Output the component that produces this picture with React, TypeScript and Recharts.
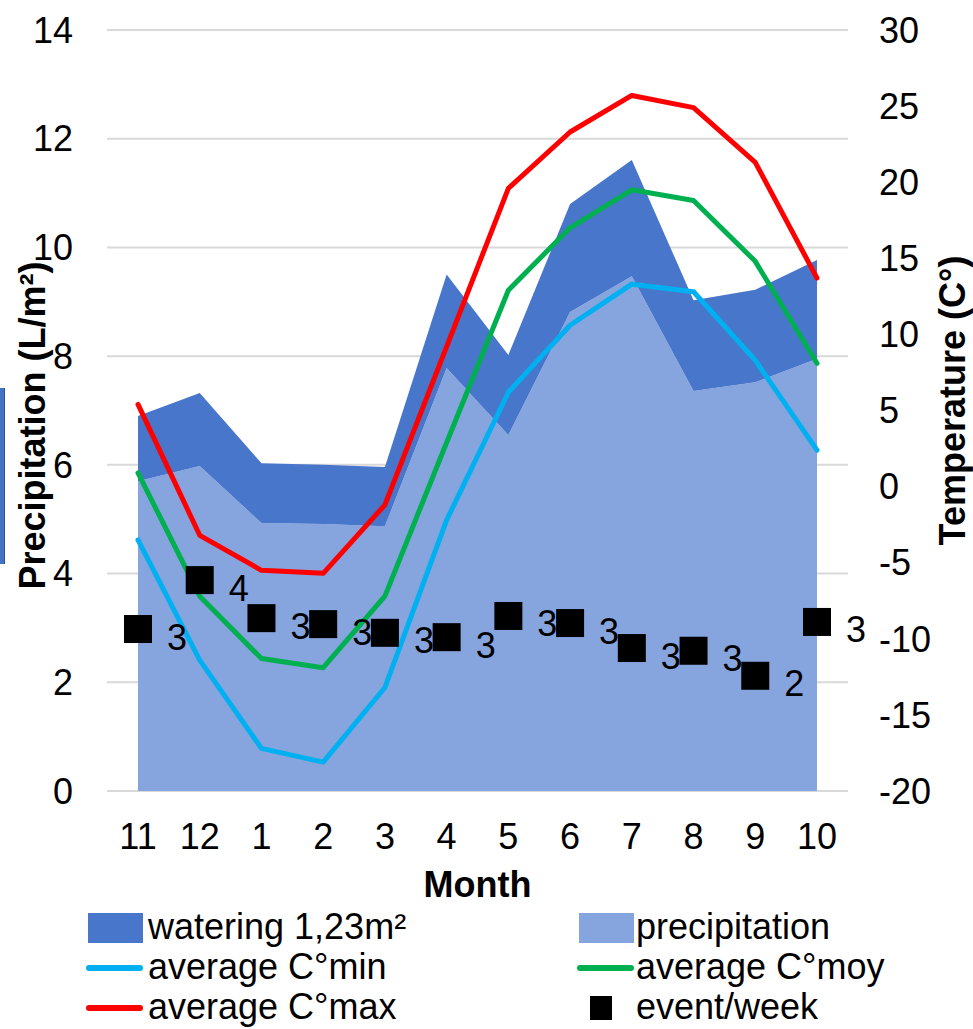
import React from "react";
import {
  ComposedChart,
  Area,
  Line,
  Scatter,
  XAxis,
  YAxis,
  CartesianGrid,
  Legend,
} from "recharts";

const months = ["11", "12", "1", "2", "3", "4", "5", "6", "7", "8", "9", "10"];
const precipitation = [5.7, 5.98, 4.93, 4.91, 4.87, 7.78, 6.55, 8.81, 9.47, 7.36, 7.52, 7.95];
const watering = [1.2, 1.34, 1.1, 1.09, 1.09, 1.72, 1.47, 1.99, 2.14, 1.67, 1.7, 1.82];
const tempMin = [-3.5, -11.4, -17.2, -18.1, -13.2, -2.2, 6.2, 10.6, 13.3, 12.8, 8.3, 2.4];
const tempMoy = [0.9, -7.2, -11.3, -11.9, -7.2, 2.9, 12.9, 17.0, 19.5, 18.8, 14.8, 8.1];
const tempMax = [5.4, -3.2, -5.5, -5.7, -1.2, 9.2, 19.6, 23.3, 25.7, 24.9, 21.3, 13.7];
const eventsPerWeek = [2.98, 3.88, 3.18, 3.07, 2.91, 2.83, 3.22, 3.09, 2.63, 2.58, 2.12, 3.11];

const leftTicks = [0, 2, 4, 6, 8, 10, 12, 14];
const rightTicks = [-20, -15, -10, -5, 0, 5, 10, 15, 20, 25, 30];

const data = months.map((m, i) => ({
  month: m,
  precipitation: precipitation[i],
  watering: watering[i],
  tMin: tempMin[i],
  tMoy: tempMoy[i],
  tMax: tempMax[i],
  events: eventsPerWeek[i],
}));

const FONT = "'Liberation Sans', Arial, sans-serif";
const DARK = "#4876CB";
const LIGHT = "#86A4DE";
const CYAN = "#00B0F0";
const GREEN = "#00B050";
const RED = "#FF0000";

const tickStyle = { fontSize: 36, fill: "#000", fontFamily: FONT };

// square marker with its rounded value printed to the right
const EventSquare = (props: any) => {
  const { cx, cy, payload } = props;
  if (cx == null || cy == null) return null;
  return (
    <g>
      <rect x={cx - 14} y={cy - 14} width={28} height={28} fill="#000" />
      <text
        x={cx + 29}
        y={cy + 8}
        dominantBaseline="central"
        fontSize={36}
        fontFamily={FONT}
        fill="#000"
      >
        {Math.round(payload.events)}
      </text>
    </g>
  );
};

const LeftTitle = ({ viewBox }: any) => {
  const x = 32;
  const y = viewBox.y + viewBox.height / 2 + 15;
  return (
    <text
      x={x}
      y={y}
      transform={`rotate(-90, ${x}, ${y})`}
      textAnchor="middle"
      dominantBaseline="central"
      fontSize={36}
      fontWeight="bold"
      fontFamily={FONT}
      fill="#000"
    >
      Precipitation (L/m²)
    </text>
  );
};

const RightTitle = ({ viewBox }: any) => {
  const x = 952;
  const y = viewBox.y + viewBox.height / 2 - 10;
  return (
    <text
      x={x}
      y={y}
      transform={`rotate(-90, ${x}, ${y})`}
      textAnchor="middle"
      dominantBaseline="central"
      fontSize={36}
      fontWeight="bold"
      fontFamily={FONT}
      fill="#000"
    >
      Temperature (C°)
    </text>
  );
};

const MonthTitle = ({ viewBox }: any) => (
  <text
    x={viewBox.x + viewBox.width / 2}
    y={viewBox.y + 93}
    textAnchor="middle"
    dominantBaseline="central"
    fontSize={36}
    fontWeight="bold"
    fontFamily={FONT}
    fill="#000"
  >
    Month
  </text>
);

const legendItems = [
  { label: "watering 1,23m²", kind: "rect", color: DARK, col: 0, row: 0 },
  { label: "precipitation", kind: "rect", color: LIGHT, col: 1, row: 0 },
  { label: "average C°min", kind: "line", color: CYAN, col: 0, row: 1 },
  { label: "average C°moy", kind: "line", color: GREEN, col: 1, row: 1 },
  { label: "average C°max", kind: "line", color: RED, col: 0, row: 2 },
  { label: "event/week", kind: "square", color: "#000", col: 1, row: 2 },
];

const LegendBox = () => (
  <div style={{ position: "relative", width: 973, height: 121, fontFamily: FONT }}>
    {legendItems.map((it) => {
      const left = it.col === 0 ? 86 : 577;
      const cy = 20 + it.row * 40;
      return (
        <div key={it.label}>
          {it.kind === "rect" && (
            <div
              style={{
                position: "absolute",
                left: left + 2,
                top: cy - 15,
                width: 55,
                height: 30,
                background: it.color,
              }}
            />
          )}
          {it.kind === "line" && (
            <div
              style={{
                position: "absolute",
                left,
                top: cy - 3,
                width: 57,
                height: 6,
                borderRadius: 3,
                background: it.color,
              }}
            />
          )}
          {it.kind === "square" && (
            <div
              style={{
                position: "absolute",
                left: left + 13,
                top: cy - 12,
                width: 22,
                height: 24,
                background: it.color,
              }}
            />
          )}
          <div
            style={{
              position: "absolute",
              left: left + (it.col === 0 ? 62 : 59),
              top: cy - 21,
              fontSize: 36,
              lineHeight: "40px",
              color: "#000",
              whiteSpace: "nowrap",
            }}
          >
            {it.label}
          </div>
        </div>
      );
    })}
  </div>
);

const App = () => {
  return (
    <div style={{ position: "absolute", left: 0, top: 0, width: 973, height: 1029, background: "#fff" }}>
      <div
        style={{
          position: "absolute",
          left: 0,
          top: 388,
          width: 4,
          height: 176,
          background: "#4472C4",
          borderRight: "1px solid #2F528F",
        }}
      />
      <ComposedChart
        width={973}
        height={1029}
        data={data}
        margin={{ top: 30, right: 0, bottom: 0, left: 0 }}
      >
        <CartesianGrid
          horizontal
          vertical={false}
          stroke="#D9D9D9"
          strokeWidth={2}
          yAxisId="left"
        />
        <XAxis
          dataKey="month"
          height={117}
          axisLine={false}
          tickLine={false}
          tickSize={0}
          tickMargin={32}
          padding={{ left: 31, right: 31 }}
          interval={0}
          tick={tickStyle}
          label={<MonthTitle />}
        />
        <YAxis
          yAxisId="left"
          orientation="left"
          width={107}
          domain={[0, 14]}
          ticks={leftTicks}
          axisLine={false}
          tickLine={false}
          tickSize={0}
          tickMargin={34}
          tick={tickStyle}
          label={<LeftTitle />}
        />
        <YAxis
          yAxisId="right"
          orientation="right"
          width={125}
          domain={[-20, 30]}
          ticks={rightTicks}
          axisLine={false}
          tickLine={false}
          tickSize={0}
          tickMargin={31}
          tick={tickStyle}
          label={<RightTitle />}
        />
        <Legend
          verticalAlign="bottom"
          content={() => <LegendBox />}
          wrapperStyle={{ left: 0, width: 973 }}
        />
        <Area
          yAxisId="left"
          type="linear"
          dataKey="precipitation"
          stackId="water"
          stroke="none"
          fill={LIGHT}
          fillOpacity={1}
          isAnimationActive={false}
        />
        <Area
          yAxisId="left"
          type="linear"
          dataKey="watering"
          stackId="water"
          stroke="none"
          fill={DARK}
          fillOpacity={1}
          isAnimationActive={false}
        />
        <Line
          yAxisId="right"
          type="linear"
          dataKey="tMin"
          stroke={CYAN}
          strokeWidth={5}
          strokeLinejoin="round"
          strokeLinecap="round"
          dot={false}
          activeDot={false}
          isAnimationActive={false}
        />
        <Line
          yAxisId="right"
          type="linear"
          dataKey="tMoy"
          stroke={GREEN}
          strokeWidth={5}
          strokeLinejoin="round"
          strokeLinecap="round"
          dot={false}
          activeDot={false}
          isAnimationActive={false}
        />
        <Line
          yAxisId="right"
          type="linear"
          dataKey="tMax"
          stroke={RED}
          strokeWidth={5}
          strokeLinejoin="round"
          strokeLinecap="round"
          dot={false}
          activeDot={false}
          isAnimationActive={false}
        />
        <Scatter
          yAxisId="left"
          dataKey="events"
          shape={<EventSquare />}
          isAnimationActive={false}
        />
      </ComposedChart>
    </div>
  );
};

export default App;
